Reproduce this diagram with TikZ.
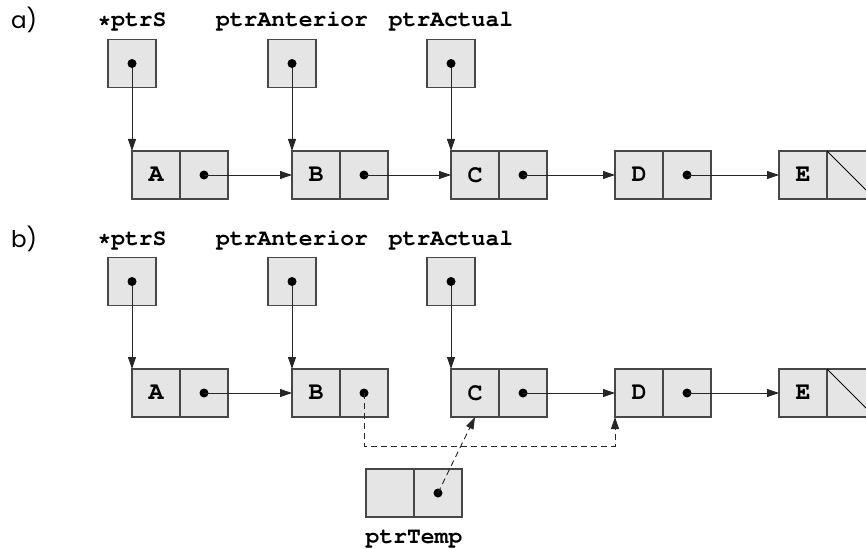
\documentclass[tikz,border=0pt]{standalone}
\usepackage[T1]{fontenc}
\usepackage{fontspec}
\newfontfamily\partfont{Poppins}
\newcommand\courierbold{\fontencoding{T1}\fontfamily{pcr}\fontseries{b}\selectfont}
\usetikzlibrary{arrows.meta}

\begin{document}
\begin{tikzpicture}[x=1pt,y=-1pt,
    cell/.style={draw=black!72,fill=black!10,line width=1.1pt,minimum width=48pt,minimum height=48pt,inner sep=0pt,outer sep=0pt,font=\fontsize{25}{26}\courierbold},
    varname/.style={anchor=base,inner sep=0pt,font=\fontsize{23}{26}\courierbold},
    partlabel/.style={anchor=base west,inner sep=0pt,font=\fontsize{23}{26}\selectfont\partfont},
    link/.style={line width=0.9pt,draw=black!85,-{Triangle[length=12pt,width=8pt]}},
    detour/.style={dash pattern=on 6pt off 4pt}]
    \useasboundingbox (0,0) rectangle (866,548);
    \clip (0,0) rectangle (866,548);

    \node[partlabel] (parta) at (11,29) {a)};
    \node[partlabel] (partb) at (11,247) {b)};

    \foreach \r/\dy in {a/0,b/218} {
        \foreach \n/\x in {A/132,B/292,C/451,D/615,E/779} {
            \node[cell] (\r\n) at (\x+24,175+\dy) {\n};
            \node[cell] (\r\n p) at (\x+72,175+\dy) {};
        }
        \foreach \v/\n/\x/\t in {S/A/132/*ptrS,Ant/B/292/ptrAnterior,Act/C/451/ptrActual} {
            \node[varname] (\r\v name) at (\x,27+\dy) {\t};
            \node[cell] (\r\v) at (\x,63.5+\dy) {};
            \draw[link] (\r\v.center) -- (\r\n.north west);
            \fill (\r\v.center) circle (4.5);
        }
        \foreach \n in {A,B,C,D} {
            \fill (\r\n p.center) circle (4.5);
        }
        \draw[line width=0.8pt] (\r Ep.north west) -- (\r Ep.south east);
    }

    \foreach \p/\n in {A/B,B/C,C/D,D/E} {
        \draw[link] (a\p p.center) -- (a\n.west);
    }
    \foreach \p/\n in {A/B,C/D,D/E} {
        \draw[link] (b\p p.center) -- (b\n.west);
    }

    \node[cell] (tmp) at (390,493) {};
    \node[cell] (tmpp) at (438,493) {};
    \node[varname] (tmpname) at (414,543) {ptrTemp};
    \fill (tmpp.center) circle (4.5);

    \coordinate (bend) at (0,446);
    \draw[link,detour] (bBp.center) -- (bBp.center |- bend) -- (bD.south west |- bend) -- (bD.south west);
    \draw[link,detour] (tmpp.center) -- (bC.south);
\end{tikzpicture}
\end{document}
